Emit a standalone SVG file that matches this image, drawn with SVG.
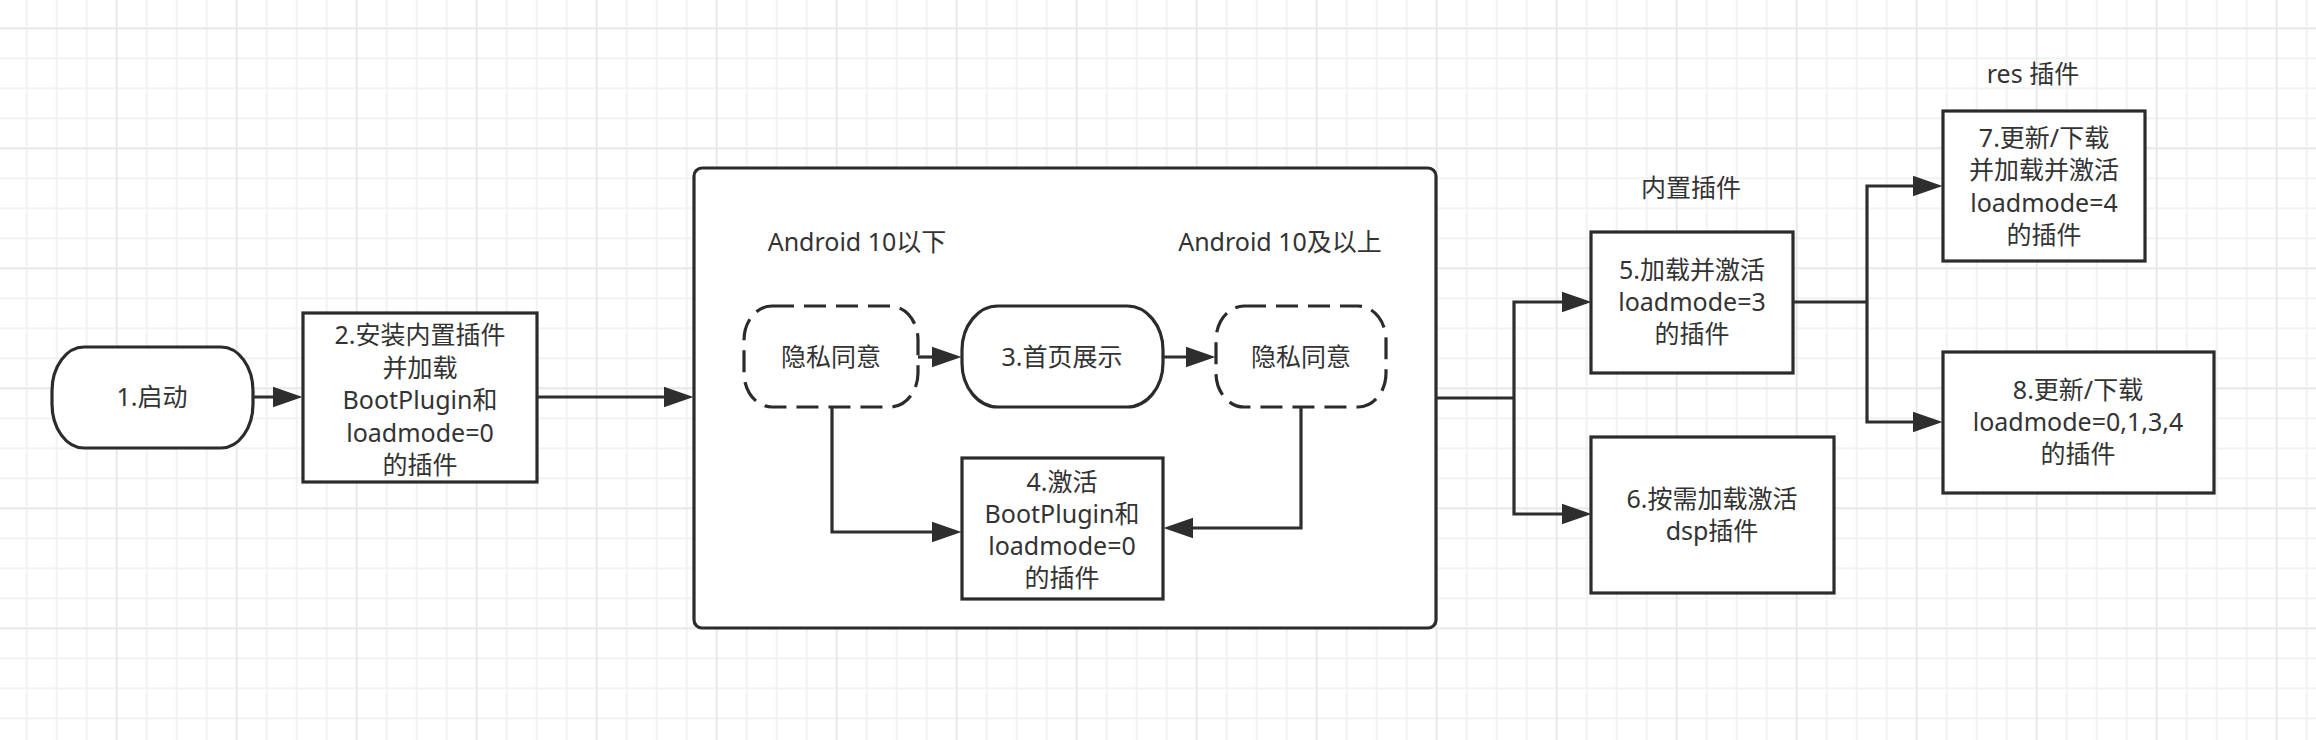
<svg xmlns="http://www.w3.org/2000/svg" width="2316" height="740" viewBox="0 0 2316 740">
<defs>
<pattern id="grid" patternUnits="userSpaceOnUse" x="-4.3" y="-92.7" width="120" height="120">
<rect x="0" y="0" width="120" height="120" fill="#ffffff"/>
<rect x="30" y="0" width="2" height="120" fill="#f2f2f2"/>
<rect x="60" y="0" width="2" height="120" fill="#f2f2f2"/>
<rect x="90" y="0" width="2" height="120" fill="#f2f2f2"/>
<rect x="0" y="30" width="120" height="2" fill="#f2f2f2"/>
<rect x="0" y="60" width="120" height="2" fill="#f2f2f2"/>
<rect x="0" y="90" width="120" height="2" fill="#f2f2f2"/>
<rect x="0" y="0" width="2" height="120" fill="#e8e8e8"/>
<rect x="0" y="0" width="120" height="2" fill="#e8e8e8"/>
</pattern>
<marker id="arr" markerUnits="userSpaceOnUse" markerWidth="30" markerHeight="22" viewBox="0 0 26 18" refX="16" refY="9" orient="auto">
<path d="M0,0 L26,9 L0,18 Z" fill="#2e2e2e"/>
</marker>
<style>
.n{fill:#ffffff;stroke:#2b2b2b;stroke-width:3.2}
.d{fill:#ffffff;stroke:#2b2b2b;stroke-width:3.2;stroke-dasharray:22 10}
.c{fill:none;stroke:#2e2e2e;stroke-width:3.2;marker-end:url(#arr)}
.l{fill:none;stroke:#2e2e2e;stroke-width:3.2}
text{font-family:"Noto Sans","Noto Sans CJK SC",sans-serif;font-size:25px;fill:#333333;text-anchor:middle}
</style>
</defs>
<rect x="0" y="0" width="2316" height="740" fill="url(#grid)"/>

<g id="container">
<rect x="694" y="168" width="742" height="460" rx="8" ry="8" class="n"/>
<text x="857" y="251">Android 10以下</text>
<text x="1280" y="251">Android 10及以上</text>
</g>

<g id="node1">
<rect x="52" y="347" width="201" height="101" rx="32" ry="44" class="n"/>
<text x="152" y="406">1.启动</text>
</g>

<g id="node2">
<rect x="303" y="313" width="234" height="169" class="n"/>
<text x="420" y="344">2.安装内置插件</text>
<text x="420" y="376.5">并加载</text>
<text x="420" y="409">BootPlugin和</text>
<text x="420" y="441.5">loadmode=0</text>
<text x="420" y="474">的插件</text>
</g>

<g id="privacy1">
<rect x="744" y="306" width="174" height="101" rx="28" ry="34" class="d"/>
<text x="831" y="366">隐私同意</text>
</g>

<g id="node3">
<rect x="962" y="306" width="201" height="101" rx="36" ry="44" class="n"/>
<text x="1062" y="366">3.首页展示</text>
</g>

<g id="privacy2">
<rect x="1216" y="306" width="170" height="101" rx="28" ry="34" class="d"/>
<text x="1301" y="366">隐私同意</text>
</g>

<g id="node4">
<rect x="962" y="458" width="201" height="141" class="n"/>
<text x="1062" y="491">4.激活</text>
<text x="1062" y="523">BootPlugin和</text>
<text x="1062" y="555">loadmode=0</text>
<text x="1062" y="587">的插件</text>
</g>

<g id="label-builtin">
<text x="1691" y="197">内置插件</text>
</g>

<g id="node5">
<rect x="1591" y="232" width="202" height="141" class="n"/>
<text x="1692" y="279">5.加载并激活</text>
<text x="1692" y="311">loadmode=3</text>
<text x="1692" y="343">的插件</text>
</g>

<g id="node6">
<rect x="1591" y="437" width="243" height="156" class="n"/>
<text x="1712" y="508">6.按需加载激活</text>
<text x="1712" y="540">dsp插件</text>
</g>

<g id="label-res">
<text x="2033" y="83">res 插件</text>
</g>

<g id="node7">
<rect x="1943" y="111" width="202" height="150" class="n"/>
<text x="2044" y="147">7.更新/下载</text>
<text x="2044" y="179">并加载并激活</text>
<text x="2044" y="212">loadmode=4</text>
<text x="2044" y="244">的插件</text>
</g>

<g id="node8">
<rect x="1943" y="352" width="271" height="141" class="n"/>
<text x="2078" y="399">8.更新/下载</text>
<text x="2078" y="431">loadmode=0,1,3,4</text>
<text x="2078" y="463">的插件</text>
</g>

<g id="connectors">
<path class="c" d="M253,397 L291,397"/>
<path class="c" d="M537,397 L682,397"/>
<path class="c" d="M918,357 L950,357"/>
<path class="c" d="M1163,357 L1204,357"/>
<path class="c" d="M832,407 L832,532 L950,532"/>
<path class="c" d="M1301,407 L1301,528 L1175,528"/>
<path class="l" d="M1436,398 L1514,398"/>
<path class="c" d="M1514,398 L1514,302 L1580,302"/>
<path class="c" d="M1514,398 L1514,514 L1580,514"/>
<path class="l" d="M1793,302 L1867,302"/>
<path class="c" d="M1867,302 L1867,186 L1931,186"/>
<path class="c" d="M1867,302 L1867,422 L1931,422"/>
</g>
</svg>
